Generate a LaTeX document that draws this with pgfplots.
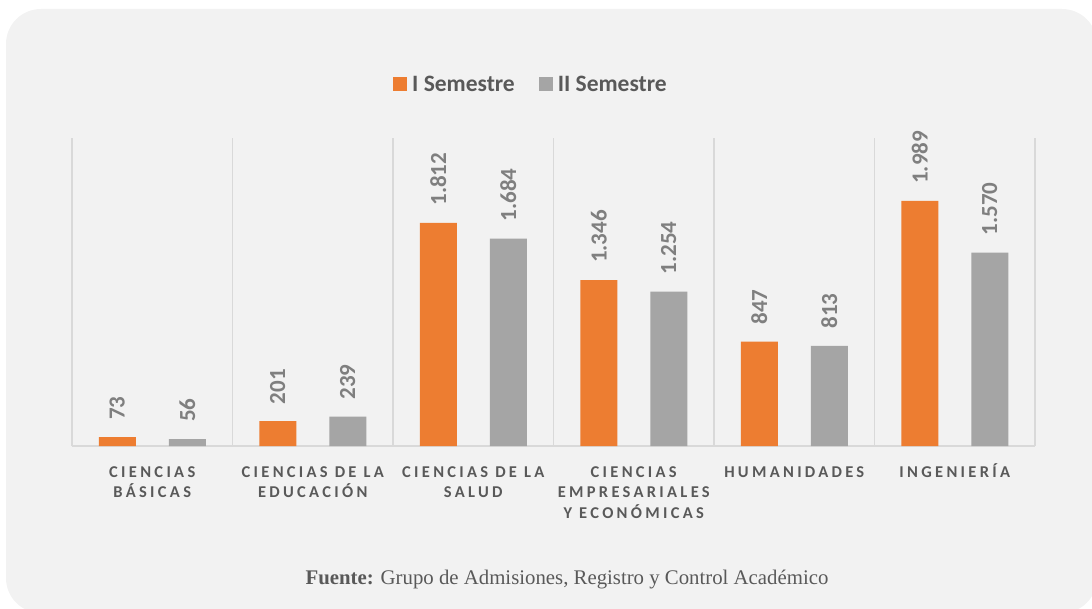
\documentclass[border=0pt]{standalone}
\usepackage{pgfplots}
\pgfplotsset{compat=1.18}
\usepackage{fontspec}
\setmainfont{Carlito}
\newfontfamily\spaced{Carlito}[LetterSpace=20]
\newfontfamily\serif{Liberation Serif}
\definecolor{bg}{HTML}{F2F2F2}
\definecolor{sep}{HTML}{D9D9D9}
\definecolor{sem1}{HTML}{ED7D31}
\definecolor{sem2}{HTML}{A5A5A5}
\definecolor{txt}{HTML}{595959}
\definecolor{val}{HTML}{7F7F7F}
\newcommand\T{\rule{0pt}{16pt}}

\begin{document}
\begin{tikzpicture}[x=1pt,y=1pt]
\useasboundingbox (0,0) rectangle (1092,608);
\fill[bg, rounded corners=35pt] (6,-5) rectangle (1097,599);
\begin{axis}[
    at={(72pt,162pt)}, anchor=south west,
    scale only axis, width=963pt, height=308pt,
    xmin=-0.5, xmax=5.5, ymin=0, ymax=2500,
    clip=false,
    ybar=33pt, bar width=37pt,
    axis x line*=bottom, hide y axis,
    x axis line style={draw=sep, line width=1.5pt},
    xtick={0,...,5},
    xticklabels={\T CIENCIAS\\BÁSICAS, \T CIENCIAS DE LA\\EDUCACIÓN, \T CIENCIAS DE LA\\SALUD,
        \T CIENCIAS\\EMPRESARIALES\\Y ECONÓMICAS, \T HUMANIDADES, \T INGENIERÍA},
    xticklabel style={align=center, anchor=north, inner sep=0pt, yshift=-15pt,
        font=\spaced\bfseries\fontsize{16.5}{20.5}\selectfont, text=txt},
    minor xtick={-0.5,0.5,...,5.5},
    xminorgrids, minor grid style={draw=sep, line width=1.5pt},
    major tick length=0pt, minor tick length=0pt,
    legend columns=2,
    legend style={at={(0.4766,1.175)}, anchor=center, draw=none, fill=none,
        font=\bfseries\fontsize{23.5}{27}\selectfont, text=txt,
        /tikz/every odd column/.append style={column sep=3pt},
        /tikz/every even column/.append style={column sep=22pt}},
    legend cell align=left,
    legend image code/.code={\fill[#1] (0pt,-7pt) rectangle (14pt,7pt);},
    nodes near coords style={rotate=90, anchor=west, inner xsep=17pt, inner ysep=0pt,
        font=\bfseries\fontsize{23}{26}\selectfont, text=val},
]
\addplot[fill=sem1, draw=none, nodes near coords, point meta=explicit symbolic]
    coordinates {(0,73)[73] (1,201)[201] (2,1812)[1.812] (3,1346)[1.346] (4,847)[847] (5,1989)[1.989]};
\addlegendentry{I Semestre}
\addplot[fill=sem2, draw=none, nodes near coords, point meta=explicit symbolic]
    coordinates {(0,56)[56] (1,239)[239] (2,1684)[1.684] (3,1254)[1.254] (4,813)[813] (5,1570)[1.570]};
\addlegendentry{II Semestre}
\end{axis}
\node[font=\serif\fontsize{20.8}{24}\selectfont, text=txt] at (567,28)
    {\textbf{Fuente:} Grupo de Admisiones, Registro y Control Académico};
\end{tikzpicture}
\end{document}
